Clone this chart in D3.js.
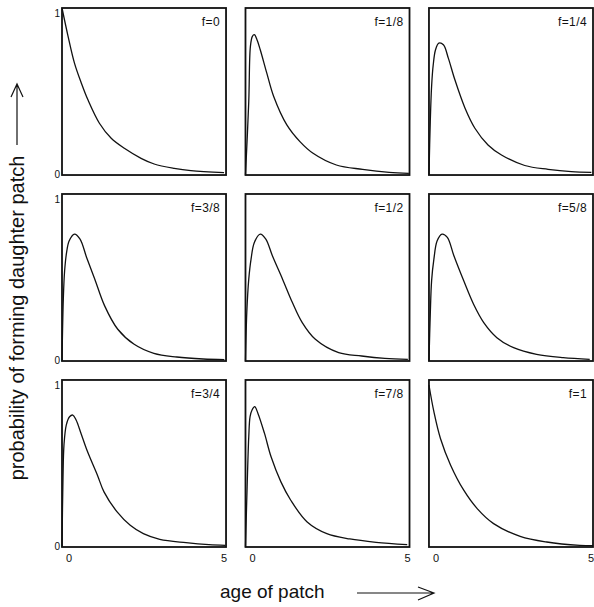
<!DOCTYPE html>
<html lang="en">
<head>
<meta charset="UTF-8">
<title>probability of forming daughter patch vs age of patch</title>
<script src="https://d3js.org/d3.v7.min.js"></script>
<style>
    body { margin: 0; background: white; }
    svg { display: block; }
    text { font-family: "Liberation Sans", Arial, Helvetica, sans-serif; fill: #111; }
</style>
</head>
<body>
<svg id="chart"></svg>
<script>
// panel labels, row by row
const labels = ["f=0", "f=1/8", "f=1/4", "f=3/8", "f=1/2", "f=5/8", "f=3/4", "f=7/8", "f=1"];

// curves: [age, probability]
const f0   = [[0,1.0],[0.18,0.835],[0.38,0.67],[0.59,0.55],[0.79,0.45],[1.14,0.31],[1.5,0.22],[1.9,0.16],[2.41,0.10],[2.81,0.066],[3.42,0.04],[3.93,0.026],[4.94,0.014]];
const f1_8 = [[0,0],[0.1,0.44],[0.15,0.77],[0.21,0.83],[0.27,0.84],[0.35,0.81],[0.45,0.75],[0.65,0.61],[0.86,0.47],[1.26,0.30],[1.66,0.20],[2.06,0.13],[2.77,0.06],[3.57,0.034],[4.38,0.016],[4.98,0.01]];
const f1_4 = [[0,0],[0.04,0.32],[0.08,0.53],[0.13,0.66],[0.2,0.75],[0.3,0.79],[0.44,0.78],[0.59,0.70],[0.79,0.57],[1.1,0.40],[1.4,0.28],[1.8,0.18],[2.21,0.12],[2.92,0.057],[3.63,0.034],[4.34,0.02],[4.95,0.016]];
const f3_8 = [[0,0],[0.04,0.37],[0.08,0.54],[0.14,0.65],[0.22,0.72],[0.38,0.76],[0.55,0.73],[0.75,0.62],[1.0,0.49],[1.3,0.33],[1.7,0.19],[2.2,0.10],[2.8,0.046],[3.5,0.024],[4.3,0.012],[4.95,0.008]];
const f1_2 = [[0,0],[0.04,0.29],[0.1,0.49],[0.17,0.61],[0.27,0.71],[0.45,0.76],[0.62,0.73],[0.82,0.63],[1.13,0.49],[1.43,0.35],[1.73,0.23],[2.13,0.13],[2.84,0.05],[3.54,0.03],[4.25,0.016],[4.95,0.01]];
const f5_8 = [[0,0],[0.04,0.28],[0.08,0.48],[0.15,0.61],[0.25,0.72],[0.4,0.76],[0.56,0.74],[0.76,0.63],[1.06,0.48],[1.36,0.34],[1.67,0.23],[2.07,0.14],[2.58,0.08],[3.28,0.04],[4.09,0.02],[4.9,0.01]];
const f3_4 = [[0,0],[0.03,0.41],[0.06,0.61],[0.13,0.73],[0.23,0.78],[0.33,0.79],[0.43,0.76],[0.58,0.68],[0.78,0.57],[1.08,0.43],[1.28,0.33],[1.68,0.21],[2.08,0.13],[2.48,0.08],[2.98,0.046],[3.78,0.026],[4.48,0.014],[4.98,0.01]];
const f7_8 = [[0,0],[0.05,0.36],[0.1,0.66],[0.14,0.78],[0.2,0.82],[0.28,0.84],[0.38,0.80],[0.58,0.68],[0.78,0.54],[1.08,0.39],[1.38,0.28],[1.88,0.15],[2.48,0.08],[3.18,0.048],[3.98,0.028],[4.93,0.014]];
const f1   = [[0,0.97],[0.15,0.81],[0.35,0.65],[0.66,0.49],[1.06,0.34],[1.47,0.23],[1.97,0.14],[2.78,0.064],[3.59,0.03],[4.6,0.01],[5,0.008]];

const curves = [f0, f1_8, f1_4, f3_8, f1_2, f5_8, f3_4, f7_8, f1];

const xTicks = [0, 5];
const yTicks = [0, 1];

const width = 594, height = 607;

const svg = d3.select("#chart")
    .attr("width", width)
    .attr("height", height);

// grid of panels
const col = d3.scaleBand().domain([0, 1, 2]).range([62, 593]).paddingInner(0.106);
const row = d3.scaleBand().domain([0, 1, 2]).range([8, 547]).paddingInner(0.102);

const pw = col.bandwidth(), ph = row.bandwidth();
const x = d3.scaleLinear().domain([0, 5]).range([0, pw]);
const y = d3.scaleLinear().domain([0, 1]).range([ph, 0]);

const line = d3.line()
    .x(d => x(d[0]))
    .y(d => y(d[1]))
    .curve(d3.curveCatmullRom.alpha(0.5));

curves.forEach((data, i) => {
    const r = Math.floor(i / 3), c = i % 3;
    const g = svg.append("g")
        .attr("transform", `translate(${col(c)},${row(r)})`);

    g.append("path")
        .datum(data)
        .attr("d", line)
        .attr("fill", "none")
        .attr("stroke", "#111")
        .attr("stroke-width", 1.3);

    g.append("rect")
        .attr("width", pw)
        .attr("height", ph)
        .attr("fill", "none")
        .attr("stroke", "#111")
        .attr("stroke-width", 1.8);

    g.append("text")
        .attr("x", pw - 6)
        .attr("y", 18)
        .attr("text-anchor", "end")
        .attr("font-size", 12)
        .attr("letter-spacing", 0.4)
        .text(labels[i]);

    // y ticks only on the left column
    if (c === 0) {
        g.selectAll(".yt")
            .data(yTicks)
            .join("text")
            .attr("x", -2)
            .attr("y", d => d === 1 ? y(d) + 9 : y(d) + 3)
            .attr("text-anchor", "end")
            .attr("font-size", 10)
            .text(d => d);
    }

    // x ticks only on the bottom row
    if (r === 2) {
        g.selectAll(".xt")
            .data(xTicks)
            .join("text")
            .attr("x", d => d === 0 ? x(d) + 7 : x(d) - 2)
            .attr("y", ph + 15)
            .attr("text-anchor", "middle")
            .attr("font-size", 11)
            .text(d => d);
    }
});

// axis titles with arrows
svg.append("text")
    .attr("transform", "translate(24,318) rotate(-90)")
    .attr("text-anchor", "middle")
    .attr("font-size", 20)
    .text("probability of forming daughter patch");

svg.append("path")
    .attr("d", "M17,145V84M11,97L17,84L23,97")
    .attr("fill", "none")
    .attr("stroke", "#111")
    .attr("stroke-width", 1.2);

svg.append("text")
    .attr("x", 220)
    .attr("y", 598)
    .attr("font-size", 19)
    .text("age of patch");

svg.append("path")
    .attr("d", "M357,593H434M418,587L434,593L418,600")
    .attr("fill", "none")
    .attr("stroke", "#111")
    .attr("stroke-width", 1.2);
</script>
</body>
</html>
